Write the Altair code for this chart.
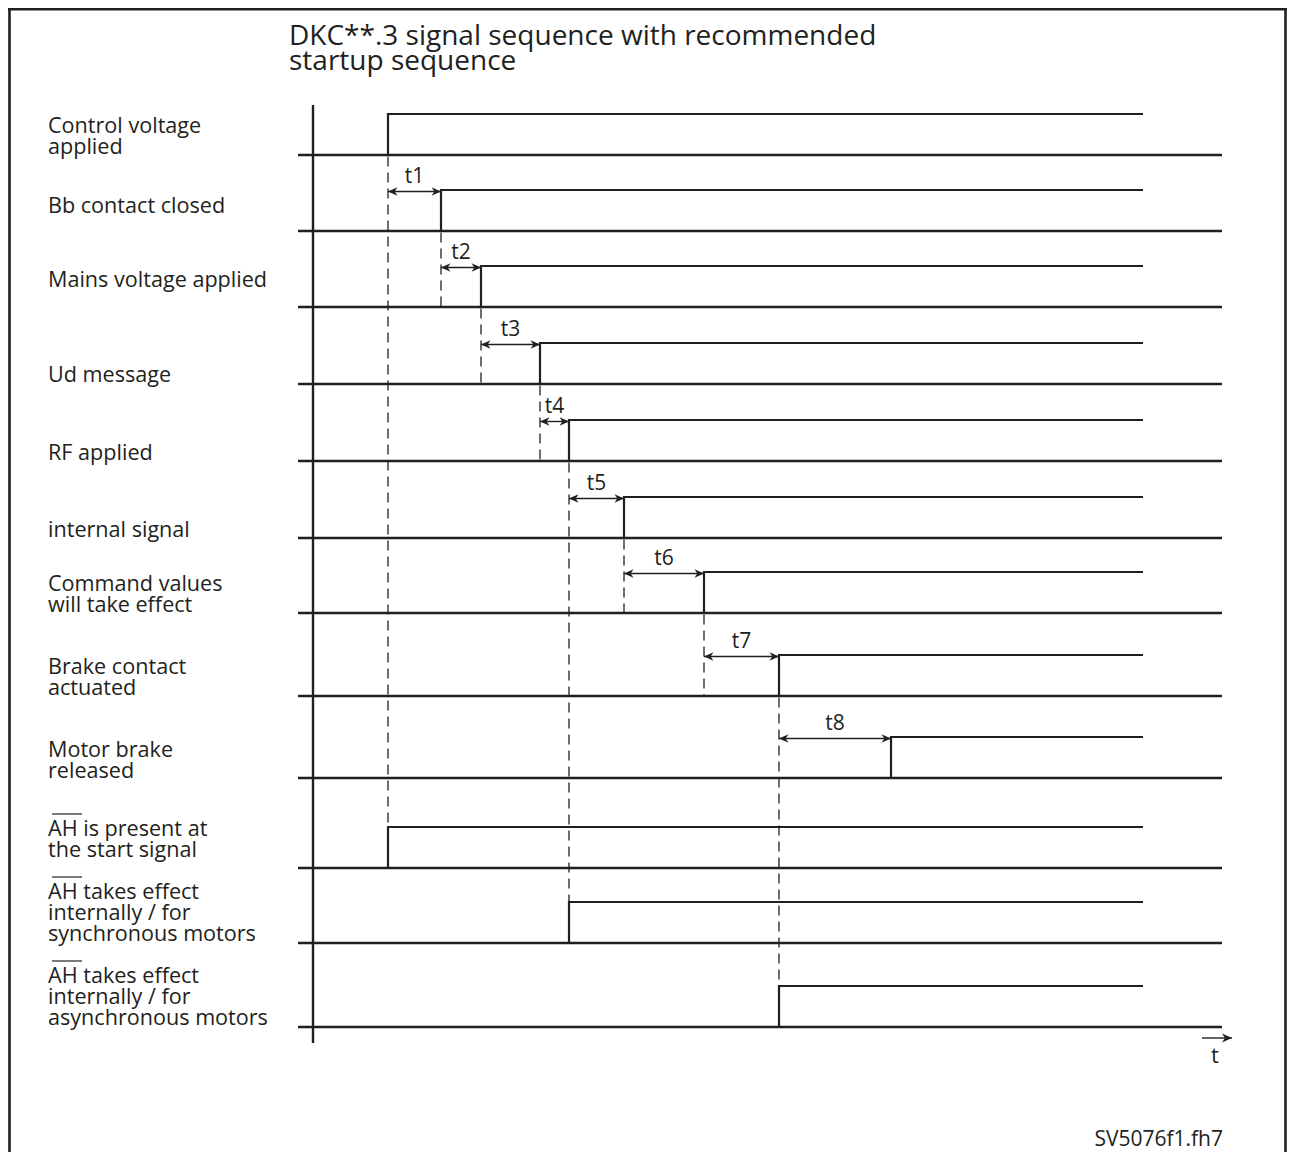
import altair as alt
import pandas as pd

# ---------------- data ----------------
title_lines = ["DKC**.3 signal sequence with recommended", "startup sequence"]
footer_text = "SV5076f1.fh7"
axis_name = "t"

signal_labels = [
    ["Control voltage", "applied"],
    ["Bb contact closed"],
    ["Mains voltage applied"],
    ["Ud message"],
    ["RF applied"],
    ["internal signal"],
    ["Command values", "will take effect"],
    ["Brake contact", "actuated"],
    ["Motor brake", "released"],
    ["AH is present at", "the start signal"],
    ["AH takes effect", "internally / for", "synchronous motors"],
    ["AH takes effect", "internally / for", "asynchronous motors"],
]
overlined = [False, False, False, False, False, False, False, False, False, True, True, True]

# switching instant of every signal (time units, 0 = start of the time axis)
switch_time = [75, 128, 168, 227, 256, 311, 391, 466, 578, 75, 256, 466]
# vertical lane level of each signal's low state (diagram units, downward)
lane_level = [155, 231, 307, 384, 461, 538, 613, 696, 778, 868, 943, 1027]
# first text line of each lane label
label_level = [133, 213, 287, 382, 460, 537, 591, 674, 757, 836, 899, 983]

# dashed guides: which signal's switch they mark and the level they reach
guide_signal = [0, 1, 2, 3, 4, 5, 6, 7]
guide_end_level = [829, 307, 384, 461, 903, 613, 696, 987]

# delays t1..t8 between consecutive switches
delay_names = ["t1", "t2", "t3", "t4", "t5", "t6", "t7", "t8"]
delay_from = [75, 128, 168, 227, 256, 311, 391, 466]
delay_to = [128, 168, 227, 256, 311, 391, 466, 578]
delay_lane = [1, 2, 3, 4, 5, 6, 7, 8]

high_end_time = 830          # end of drawn high state
lane_start_time = -15        # lanes start slightly left of the time axis
lane_end_time = 909
axis_top_level = 105
axis_bottom_level = 1043
amplitude = 41               # height of the high state

# ---------------- layout ----------------
W, H = 1279, 1144
INK = "#231f20"
FONT = "Open Sans"
x_domain = [-305, -305 + W]
y_domain = [8, 8 + H]
label_time = -265
title_time = -24

def X(field):
    return alt.X(field, type="quantitative", axis=None,
                 scale=alt.Scale(domain=x_domain, nice=False, zero=False))

def X2(field):
    return alt.X2(field)

def Y(field):
    return alt.Y(field, type="quantitative", axis=None,
                 scale=alt.Scale(domain=y_domain, nice=False, zero=False, reverse=True))

def Y2(field):
    return alt.Y2(field)

n = len(switch_time)

lanes = pd.DataFrame({
    "x": [lane_start_time] * n,
    "x2": [lane_end_time] * n,
    "y": lane_level,
})

steps = []
for i in range(n):
    base = lane_level[i]
    hi = base - amplitude
    steps += [
        {"sig": i, "k": 0, "x": switch_time[i], "y": base},
        {"sig": i, "k": 1, "x": switch_time[i], "y": hi},
        {"sig": i, "k": 2, "x": high_end_time, "y": hi},
    ]
steps = pd.DataFrame(steps)

guides = pd.DataFrame({
    "x": [switch_time[g] for g in guide_signal],
    "y": [lane_level[g] + 1.5 for g in guide_signal],
    "y2": guide_end_level,
})

delays = pd.DataFrame({
    "name": delay_names,
    "x": delay_from,
    "x2": delay_to,
    "y": [lane_level[l] - amplitude + 1.5 for l in delay_lane],
})
delays["xm"] = (delays["x"] + delays["x2"]) / 2
delays["ty"] = delays["y"] - 9

labels = pd.DataFrame({
    "lines": signal_labels,
    "x": [label_time] * n,
    "y": label_level,
})

over = pd.DataFrame({
    "x": [label_time + 4] * sum(overlined),
    "x2": [label_time + 34] * sum(overlined),
    "y": [label_level[i] - 22 for i in range(n) if overlined[i]],
})

axis_df = pd.DataFrame({"x": [0], "y": [axis_top_level], "y2": [axis_bottom_level]})

tarrow = pd.DataFrame({"x": [lane_end_time - 20], "x2": [lane_end_time + 10],
                       "y": [axis_bottom_level - 5]})
tname = pd.DataFrame({"x": [lane_end_time - 7], "y": [axis_bottom_level + 20], "t": [axis_name]})

title_df = pd.DataFrame({"x": [title_time], "y": [45], "lines": [title_lines]})
footer_df = pd.DataFrame({"x": [lane_end_time + 1], "y": [1146], "t": [footer_text]})

frame_v = pd.DataFrame({"x": [x_domain[0] + 1.5, x_domain[1] - 1.5],
                        "y": [9, 9], "y2": [y_domain[1], y_domain[1]]})
frame_h = pd.DataFrame({"x": [x_domain[0]], "x2": [x_domain[1]], "y": [9.3]})

RIGHT_HEAD = "M0,0L-2,-0.9L-1.4,0L-2,0.9Z"
LEFT_HEAD = "M0,0L2,-0.9L1.4,0L2,0.9Z"

layers = []
# lanes (low level)
layers.append(alt.Chart(lanes).mark_rule(color=INK, strokeWidth=2.7).encode(
    x=X("x"), x2=X2("x2"), y=Y("y")))
# signal steps
layers.append(alt.Chart(steps).mark_line(color=INK, strokeWidth=2.2, strokeJoin="miter").encode(
    x=X("x"), y=Y("y"), detail="sig:N", order="k:Q"))
# dashed guides
layers.append(alt.Chart(guides).mark_rule(color=INK, strokeWidth=1.3, strokeDash=[10, 6]).encode(
    x=X("x"), y=Y("y"), y2=Y2("y2")))
# delay arrows
layers.append(alt.Chart(delays).mark_rule(color=INK, strokeWidth=1.4).encode(
    x=X("x"), x2=X2("x2"), y=Y("y")))
layers.append(alt.Chart(delays).mark_point(shape=LEFT_HEAD, filled=True, size=90, color=INK,
                                           opacity=1, strokeWidth=0).encode(x=X("x"), y=Y("y")))
layers.append(alt.Chart(delays).mark_point(shape=RIGHT_HEAD, filled=True, size=90, color=INK,
                                           opacity=1, strokeWidth=0).encode(x=X("x2"), y=Y("y")))
layers.append(alt.Chart(delays).mark_text(font=FONT, fontSize=21, color=INK, align="center",
                                          baseline="alphabetic").encode(
    x=X("xm"), y=Y("ty"), text="name:N"))
# time axis
layers.append(alt.Chart(axis_df).mark_rule(color=INK, strokeWidth=2.4).encode(
    x=X("x"), y=Y("y"), y2=Y2("y2")))
layers.append(alt.Chart(tarrow).mark_rule(color=INK, strokeWidth=1.4).encode(
    x=X("x"), x2=X2("x2"), y=Y("y")))
layers.append(alt.Chart(tarrow).mark_point(shape=RIGHT_HEAD, filled=True, size=100, color=INK,
                                           opacity=1, strokeWidth=0).encode(x=X("x2"), y=Y("y")))
layers.append(alt.Chart(tname).mark_text(font=FONT, fontSize=22, color=INK, align="center",
                                         baseline="alphabetic").encode(
    x=X("x"), y=Y("y"), text="t:N"))
# lane labels
layers.append(alt.Chart(labels).mark_text(font=FONT, fontSize=21.6, lineHeight=21, color=INK,
                                          align="left", baseline="alphabetic").encode(
    x=X("x"), y=Y("y"), text="lines"))
layers.append(alt.Chart(over).mark_rule(color=INK, strokeWidth=1.2).encode(
    x=X("x"), x2=X2("x2"), y=Y("y")))
# title and footer
layers.append(alt.Chart(title_df).mark_text(font=FONT, fontSize=28, lineHeight=25, color=INK,
                                            align="left", baseline="alphabetic").encode(
    x=X("x"), y=Y("y"), text="lines"))
layers.append(alt.Chart(footer_df).mark_text(font=FONT, fontSize=21, color=INK,
                                             align="right", baseline="alphabetic").encode(
    x=X("x"), y=Y("y"), text="t:N"))
# frame
layers.append(alt.Chart(frame_v).mark_rule(color=INK, strokeWidth=2.6).encode(
    x=X("x"), y=Y("y"), y2=Y2("y2")))
layers.append(alt.Chart(frame_h).mark_rule(color=INK, strokeWidth=2.6).encode(
    x=X("x"), x2=X2("x2"), y=Y("y")))

chart = alt.layer(*layers).properties(
    width=W, height=H,
    autosize=alt.AutoSizeParams(type="none"),
    padding={"left": 0, "top": 0, "right": 0, "bottom": 0},
).configure_view(stroke=None).configure(background="white")

chart.save("out.html", embed_options={"renderer": "svg", "actions": False})
